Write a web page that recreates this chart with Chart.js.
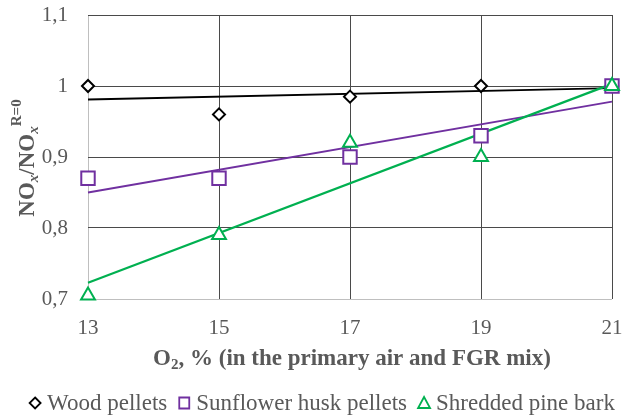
<!DOCTYPE html>
<html>
<head>
<meta charset="utf-8">
<script src="https://cdn.jsdelivr.net/npm/chart.js@4/dist/chart.umd.min.js"></script>
<style>
  html, body { margin: 0; padding: 0; background: #fff; }
</style>
</head>
<body>
<canvas id="c" width="633" height="419"></canvas>
<script>
const o2 = [13, 15, 17, 19, 21];
const woodPellets = [1.0, 0.96, 0.985, 1.0, 1.0];
const sunflowerHusk = [0.87, 0.87, 0.9, 0.93, 1.0];
const pineBark = [0.705, 0.79, 0.92, 0.9, 1.0];
const seriesNames = ["Wood pellets", "Sunflower husk pellets", "Shredded pine bark"];
const xTickLabels = ["13", "15", "17", "19", "21"];
const yTickLabels = ["0,7", "0,8", "0,9", "1", "1,1"];

const SERIF = "'Liberation Serif', 'Times New Roman', serif";
const colors = ["#000000", "#7030A0", "#00B050"];
const styles = ["rectRot", "rect", "triangle"];

// least squares trendline, like the spreadsheet "linear" trend
function trend(xs, ys) {
  const n = xs.length;
  const mx = xs.reduce((a, b) => a + b, 0) / n;
  const my = ys.reduce((a, b) => a + b, 0) / n;
  let sxy = 0, sxx = 0;
  xs.forEach((x, i) => { sxy += (x - mx) * (ys[i] - my); sxx += (x - mx) * (x - mx); });
  const k = sxy / sxx;
  const x0 = xs[0], x1 = xs[n - 1];
  return [{ x: x0, y: my + k * (x0 - mx) }, { x: x1, y: my + k * (x1 - mx) }];
}

const pts = ys => o2.map((x, i) => ({ x, y: ys[i] }));
const all = [woodPellets, sunflowerHusk, pineBark];
const radii = [6, 9.5, 8];
const trendWidths = [1.8, 1.8, 2.2];

const datasets = [];
all.forEach((ys, i) => {
  datasets.push({
    label: seriesNames[i], data: pts(ys), showLine: false, clip: false,
    pointStyle: styles[i], pointRadius: radii[i], pointBorderWidth: 2,
    pointBorderColor: colors[i], pointBackgroundColor: "#fff", order: 3 - i
  });
});
all.forEach((ys, i) => {
  datasets.push({
    label: seriesNames[i] + " trend", data: trend(o2, ys), showLine: true, clip: false,
    borderColor: colors[i], borderWidth: trendWidths[i], pointRadius: 0, order: 10 - i
  });
});

function drawRuns(ctx, runs, x, y, align) {
  // runs: [text, font, dy]
  let w = 0;
  runs.forEach(r => { ctx.font = r[1]; w += ctx.measureText(r[0]).width; });
  let cx = align === "center" ? x - w / 2 : x;
  runs.forEach(r => { ctx.font = r[1]; ctx.fillText(r[0], cx, y + r[2]); cx += ctx.measureText(r[0]).width; });
}

const labels = {
  id: "labels",
  afterDraw(chart) {
    const ctx = chart.ctx, a = chart.chartArea;
    ctx.save();
    ctx.fillStyle = "#595959";
    ctx.textBaseline = "alphabetic";
    const big = "bold 23px " + SERIF, small = "bold 15px " + SERIF, ital = "italic bold 15px " + SERIF;
    // x title
    drawRuns(ctx, [["O", big, 0], ["2", small, 4], [", % (in the primary air and FGR mix)", big, 0]],
      (a.left + a.right) / 2 + 2, 365, "center");
    // y title
    ctx.translate(34, (a.top + a.bottom) / 2 + 1);
    ctx.rotate(-Math.PI / 2);
    drawRuns(ctx, [["NO", big, 0], ["x", ital, 4], ["/NO", big, 0], ["x", ital, 4], ["R=0", small, -13]], 0, 0, "center");
    ctx.restore();

    // legend
    ctx.save();
    const lf = "23px " + SERIF;
    ctx.font = lf;
    const gap = 6, sym = 12, space = 11;
    let total = 0;
    seriesNames.forEach((n, i) => { total += sym + gap + ctx.measureText(n).width + (i < 2 ? space : 0); });
    let x = 322 - total / 2;
    const y = 403;
    seriesNames.forEach((n, i) => {
      ctx.strokeStyle = colors[i];
      ctx.lineWidth = 1.8;
      ctx.beginPath();
      const cx = x + sym / 2;
      if (i === 0) {
        ctx.moveTo(cx, y - 5.5); ctx.lineTo(cx + 5.5, y); ctx.lineTo(cx, y + 5.5); ctx.lineTo(cx - 5.5, y); ctx.closePath();
      } else if (i === 1) {
        ctx.rect(cx - 5, y - 5.5, 10, 11);
      } else {
        ctx.moveTo(cx, y - 6); ctx.lineTo(cx + 6, y + 5); ctx.lineTo(cx - 6, y + 5); ctx.closePath();
      }
      ctx.stroke();
      x += sym + gap;
      ctx.fillStyle = "#595959";
      ctx.font = lf;
      ctx.textBaseline = "middle";
      ctx.fillText(n, x, y + 1);
      x += ctx.measureText(n).width + space;
    });
    ctx.restore();
  }
};

const gridColor = (ctx, edge) => (ctx.tick && Math.abs(ctx.tick.value - edge) < 1e-6) ? "#bfbfbf" : "#4a4a4a";

new Chart(document.getElementById("c"), {
  type: "scatter",
  data: { datasets },
  options: {
    responsive: false,
    animation: false,
    layout: { padding: { top: 15, right: 21, left: 0, bottom: 0 } },
    plugins: { legend: { display: false }, tooltip: { enabled: false } },
    scales: {
      x: {
        type: "linear", min: 13, max: 21,
        ticks: { stepSize: 2, color: "#595959", font: { family: SERIF, size: 21, lineHeight: 1 }, padding: 19,
          callback: (v, i) => xTickLabels[i] },
        grid: { color: c => gridColor(c, 13), drawTicks: false },
        border: { display: false },
        afterFit(s) { s.height = 120; s.paddingLeft = 0; s.paddingRight = 0; }
      },
      y: {
        min: 0.7, max: 1.1,
        ticks: { stepSize: 0.1, color: "#595959", font: { family: SERIF, size: 21, lineHeight: 1 }, padding: 20,
          callback: (v, i) => yTickLabels[i] },
        grid: { color: c => gridColor(c, 0.7), drawTicks: false },
        border: { display: false },
        afterFit(s) { s.width = 88; s.paddingTop = 0; s.paddingBottom = 0; }
      }
    }
  },
  plugins: [labels]
});
</script>
</body>
</html>
